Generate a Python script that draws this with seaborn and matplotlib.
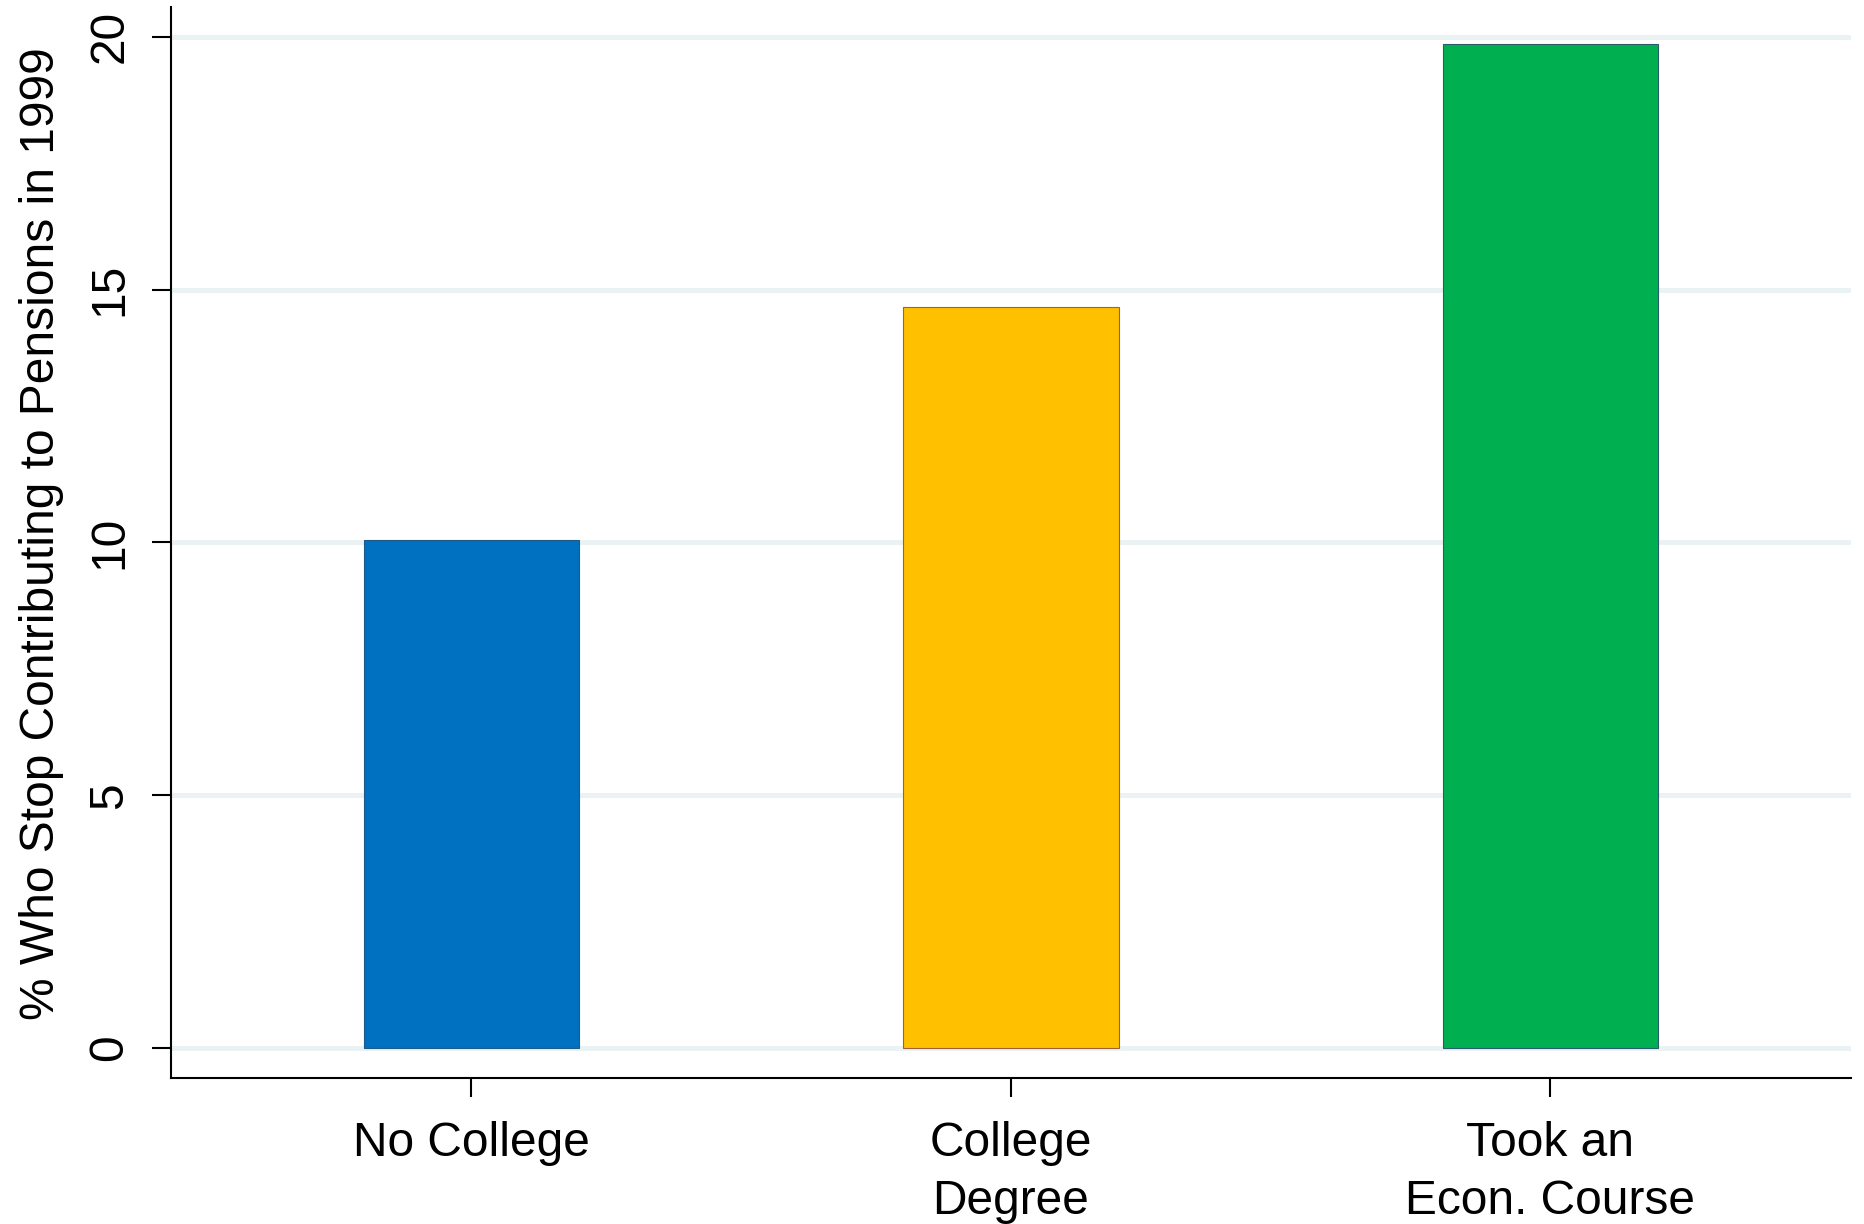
import pandas as pd
import matplotlib
matplotlib.use("Agg")
import matplotlib.pyplot as plt
import seaborn as sns

# Data
groups = ["No College", "College\nDegree", "Took an\nEcon. Course"]
pct_stop = [10.05, 14.65, 19.85]
bar_colors = ["#0070C0", "#FFC000", "#00B050"]
edge_colors = ["#1F5A8A", "#A0603A", "#2A5C6A"]
y_ticks = [0, 5, 10, 15, 20]

df = pd.DataFrame({"group": groups, "pct": pct_stop})

sns.set_style("white")
plt.rcParams["font.family"] = ["Liberation Sans", "DejaVu Sans"]
plt.rcParams["text.color"] = "black"
plt.rcParams["axes.labelcolor"] = "black"
plt.rcParams["xtick.color"] = "black"
plt.rcParams["ytick.color"] = "black"

fig = plt.figure(figsize=(18.64, 12.24), dpi=100)
ax = fig.add_axes([0.0917, 0.1193, 0.9013, 0.875])

for y in y_ticks:
    ax.axhline(y, color="#EAF2F3", lw=3.6, zorder=0)

sns.barplot(
    data=df, x="group", y="pct", hue="group",
    palette=bar_colors, saturation=1, width=0.4, legend=False,
    ax=ax, zorder=2
)

for patch, ec in zip(ax.patches, edge_colors):
    patch.set_edgecolor(ec)
    patch.set_linewidth(0.8)

ax.set_xlim(-0.557, 2.557)
ax.set_ylim(-0.593, 20.59)
ax.set_yticks(y_ticks)
ax.set_yticklabels([str(t) for t in y_ticks], rotation=90, va="center")
for lbl in ax.get_xticklabels():
    lbl.set_linespacing(1.37)

ax.set_xlabel("")
ax.set_ylabel("% Who Stop Contributing to Pensions in 1999", fontsize=34.5, labelpad=17)
ax.yaxis.label.set_y(0.508)

ax.tick_params(axis="y", labelsize=34.5, length=13.7, width=1.5, pad=14, left=True)
ax.tick_params(axis="x", labelsize=34.5, length=13.7, width=1.5, pad=17, bottom=True)

for side in ["top", "right"]:
    ax.spines[side].set_visible(False)
for side in ["left", "bottom"]:
    ax.spines[side].set_color("black")
    ax.spines[side].set_linewidth(1.5)

fig.savefig("out.png", dpi=100)
